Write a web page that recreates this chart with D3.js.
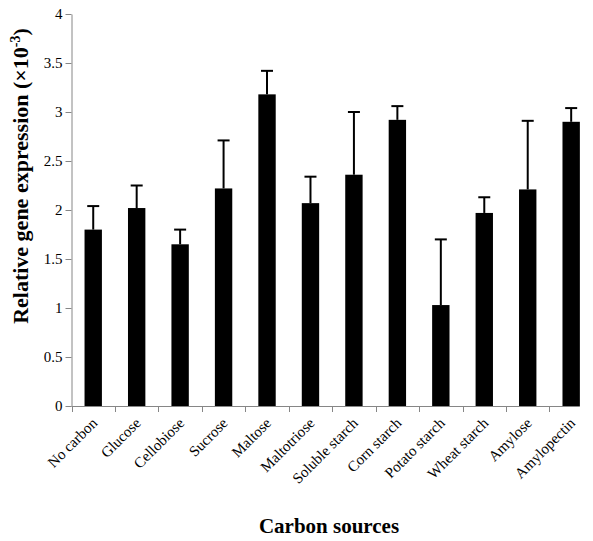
<!DOCTYPE html>
<html>
<head>
<meta charset="utf-8">
<script src="https://cdn.jsdelivr.net/npm/d3@7"></script>
<style>
  body { margin: 0; background: #fff; }
  svg text { font-family: "Liberation Serif", "Times New Roman", serif; }
</style>
</head>
<body>
<div id="chart"></div>
<script>
// carbon sources on the x axis
var categories = ["No carbon", "Glucose", "Cellobiose", "Sucrose", "Maltose", "Maltotriose",
    "Soluble starch", "Corn starch", "Potato starch", "Wheat starch", "Amylose", "Amylopectin"];
// mean expression (x10^-3)
var values = [1.80, 2.02, 1.65, 2.22, 3.18, 2.07, 2.36, 2.92, 1.03, 1.97, 2.21, 2.90];
// upper error (standard deviation)
var errors = [0.24, 0.23, 0.15, 0.49, 0.24, 0.27, 0.64, 0.14, 0.67, 0.16, 0.70, 0.14];
var yTicks = [0, 0.5, 1, 1.5, 2, 2.5, 3, 3.5, 4];

var width = 593, height = 541;
var plotLeft = 71.5, plotTop = 14, plotBottom = 406;
var axisColor = "#868686";
var serif = '"Liberation Serif", "Times New Roman", serif';

var svg = d3.select("#chart").append("svg")
    .attr("width", width)
    .attr("height", height);

var x = d3.scaleBand()
    .domain(categories)
    .range([plotLeft, plotLeft + 12 * 43.45])
    .paddingInner(0.6)
    .paddingOuter(0.3);

var y = d3.scaleLinear()
    .domain([0, 4])
    .range([plotBottom, plotTop]);

/********* Y AXIS ************/
var yAxis = svg.append("g")
    .attr("transform", `translate(${plotLeft},0)`)
    .call(d3.axisLeft(y).tickValues(yTicks).tickSize(6).tickSizeOuter(0).tickFormat(d3.format("")));

yAxis.attr("font-family", serif);
yAxis.select(".domain").attr("stroke", axisColor);
yAxis.selectAll(".tick line").attr("stroke", axisColor);
yAxis.selectAll(".tick text")
    .attr("x", -9)
    .style("font-family", serif)
    .style("font-size", "15px")
    .attr("fill", "#000");

/********* X AXIS ************/
var step = x.step();
// tick marks sit on the boundaries between the bands
var bounds = categories.map(function (c, i) { return plotLeft + i * step; });

svg.append("line")
    .attr("x1", plotLeft).attr("x2", x(categories[11]) + x.bandwidth())
    .attr("y1", plotBottom + 0.5).attr("y2", plotBottom + 0.5)
    .attr("stroke", axisColor);

svg.selectAll(".xtick")
    .data(bounds)
    .enter().append("line")
    .attr("class", "xtick")
    .attr("x1", d => Math.round(d) + 0.5).attr("x2", d => Math.round(d) + 0.5)
    .attr("y1", plotBottom).attr("y2", plotBottom + 6)
    .attr("stroke", axisColor);

svg.selectAll(".xlabel")
    .data(categories)
    .enter().append("text")
    .attr("class", "xlabel")
    .attr("text-anchor", "end")
    .attr("transform", d => `translate(${x(d) + x.bandwidth() / 2 + 5},${plotBottom + 18}) rotate(-45)`)
    .style("font-size", "15px")
    .text(d => d);

/********* BARS + ERROR BARS ************/
svg.selectAll(".bar")
    .data(values)
    .enter().append("rect")
    .attr("class", "bar")
    .attr("x", (d, i) => x(categories[i]))
    .attr("width", x.bandwidth())
    .attr("y", d => y(d))
    .attr("height", d => y(0) - y(d))
    .attr("fill", "#000");

var err = svg.selectAll(".err")
    .data(values)
    .enter().append("g")
    .attr("class", "err")
    .attr("transform", (d, i) => `translate(${x(categories[i]) + x.bandwidth() / 2},0)`);

err.append("line")
    .attr("y1", d => y(d))
    .attr("y2", (d, i) => y(d + errors[i]))
    .attr("stroke", "#000")
    .attr("stroke-width", 2);

err.append("line")
    .attr("x1", -6).attr("x2", 6)
    .attr("y1", (d, i) => y(d + errors[i]))
    .attr("y2", (d, i) => y(d + errors[i]))
    .attr("stroke", "#000")
    .attr("stroke-width", 2);

/********* TITLES ************/
svg.append("text")
    .attr("x", 329)
    .attr("y", 533)
    .attr("text-anchor", "middle")
    .style("font-size", "21px")
    .style("font-weight", "bold")
    .text("Carbon sources");

var yt = svg.append("text")
    .attr("transform", "translate(28,176) rotate(-90)")
    .attr("text-anchor", "middle")
    .style("font-size", "22px")
    .style("font-weight", "bold");
yt.append("tspan").text("Relative gene expression (×10");
yt.append("tspan").attr("dy", -8).style("font-size", "14px").text("-3");
yt.append("tspan").attr("dy", 8).text(")");
</script>
</body>
</html>
